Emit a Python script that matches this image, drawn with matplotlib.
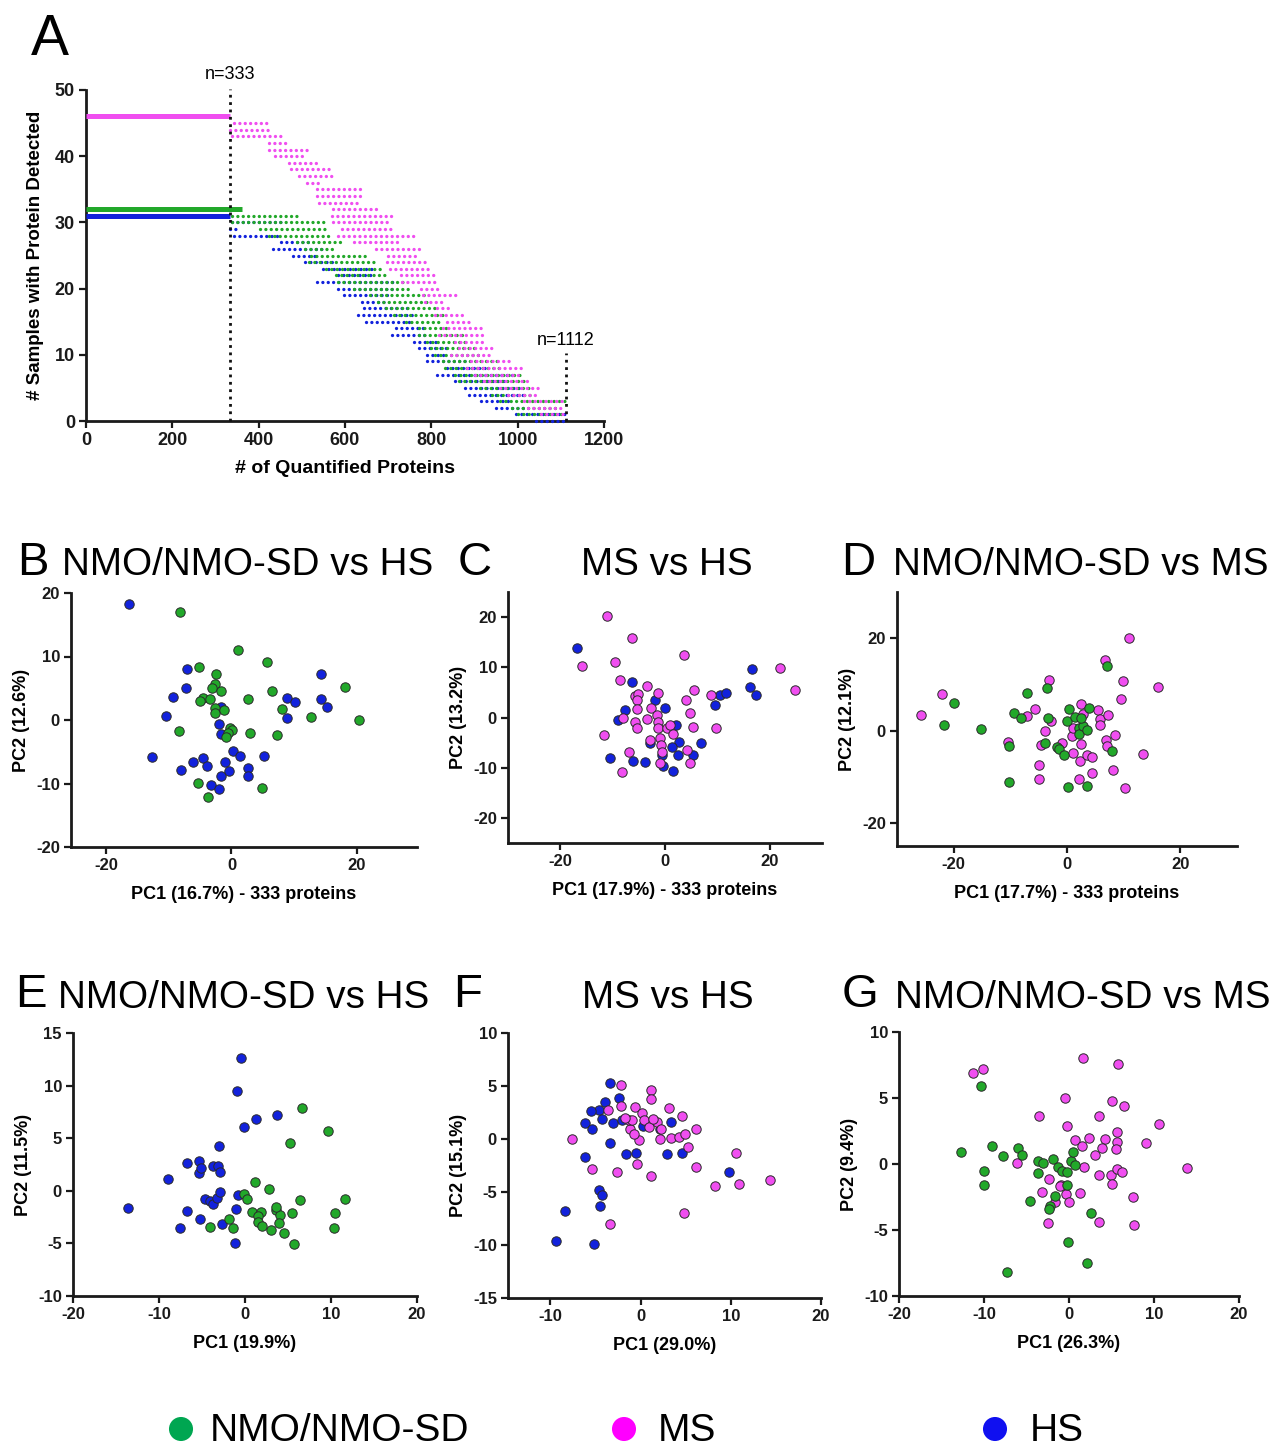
import numpy as np
import matplotlib
matplotlib.use("Agg")
import matplotlib.pyplot as plt
from matplotlib import font_manager

W, H = 1275, 1448
plt.rcParams['axes.unicode_minus'] = False

_names = {f.name for f in font_manager.fontManager.ttflist}
NARROW = 'Liberation Sans Narrow' if 'Liberation Sans Narrow' in _names else 'Liberation Sans'
WIDE = 'Liberation Sans'

# colours
GREEN = '#22a82a'
MAGENTA = '#f04ef0'
BLUE = '#1222dc'
LEG_GREEN = '#00a651'
LEG_MAGENTA = '#ff00ff'
LEG_BLUE = '#1010f0'

# ---------------- panel A : detection counts per group ----------------
# plateau lines (proteins detected in all samples of a group)
ms_full, ms_full_end = 46, 333
nmo_full, nmo_full_end = 32, 362
hs_full, hs_full_end = 31, 333

# dotted runs: number of samples, first and last protein rank of the run
ms_level = [45, 44, 43, 42, 41, 40, 39, 38, 37, 36, 35, 34, 33, 32, 31, 30, 29, 28, 27, 26, 25, 24,
            23, 22, 21, 20, 19, 18, 17, 16, 15, 14, 13, 12, 11, 10, 9, 8, 7, 6, 5, 4, 3, 2, 1]
ms_x0 = [343, 333, 338, 423, 423, 437, 470, 474, 493, 512, 536, 536, 540, 573, 569, 573, 592, 583, 620,
         672, 700, 698, 705, 729, 733, 776, 780, 785, 813, 808, 837, 827, 818, 855, 865, 846, 893, 883,
         902, 921, 959, 977, 1015, 1024, 1053]
ms_x1 = [420, 423, 460, 470, 512, 512, 540, 569, 573, 550, 634, 634, 630, 677, 719, 710, 710, 761, 733,
         771, 766, 790, 795, 808, 813, 818, 860, 827, 850, 870, 893, 916, 926, 926, 950, 940, 982, 1010,
         1010, 1034, 1048, 1048, 1109, 1109, 1109]

nmo_level = [31, 30, 29, 28, 27, 26, 25, 24, 23, 22, 21, 20, 19, 18, 17, 16, 15, 14, 13, 12, 11, 10,
             9, 8, 7, 6, 5, 4, 3, 2, 1]
nmo_x0 = [338, 338, 404, 423, 489, 508, 522, 517, 555, 578, 583, 620, 658, 677, 695, 714, 742, 771, 771,
          789, 799, 808, 827, 832, 855, 865, 912, 940, 959, 987, 1001]
nmo_x1 = [493, 555, 555, 564, 597, 573, 648, 677, 691, 695, 742, 752, 790, 799, 818, 827, 827, 846, 874,
          883, 911, 911, 959, 968, 1006, 1015, 1034, 1034, 1113, 1090, 1109]

hs_level = [30, 29, 28, 27, 26, 25, 24, 23, 22, 21, 20, 19, 18, 17, 16, 15, 14, 13, 12, 11, 10,
            9, 8, 7, 6, 5, 4, 3, 2, 1, 0]
hs_x0 = [338, 333, 343, 451, 433, 479, 508, 550, 583, 536, 583, 597, 639, 644, 630, 649, 719, 710, 761,
         771, 789, 789, 836, 813, 855, 878, 888, 916, 949, 996, 1043]
hs_x1 = [460, 357, 446, 517, 555, 536, 573, 667, 667, 714, 714, 705, 695, 752, 761, 752, 780, 789, 818,
         837, 837, 883, 930, 996, 968, 1006, 1024, 987, 1015, 1109, 1109]

cut_core, cut_all = 333, 1112

# ---------------- panels B-G : PCA scores ----------------
b_hs_x = [-16.3, -7.1, -7.2, -9.3, -10.4, -12.7, -8.1, -6.2, -4.5, -3.9, -3.2, -2.0, -1.7, -1.0, -0.4,
          0.3, 1.4, 2.7, 2.7, 5.2, -1.6, -2.0, -1.6, 8.8, 10.1, 8.8, 14.3, 14.3, 15.2]
b_hs_y = [18.3, 8.1, 5.0, 3.7, 0.6, -5.8, -7.9, -6.6, -6.0, -7.2, -10.3, -10.8, -8.8, -6.6, -8.0,
          -4.9, -5.7, -7.5, -8.8, -5.7, 2.1, -0.7, -2.2, 3.5, 2.8, 0.3, 7.3, 3.3, 2.1]
b_nmo_x = [-8.2, 1.0, 5.6, -5.1, -2.4, -2.7, -3.1, -1.6, -4.5, -5.0, -3.5, 2.7, 6.5, 18.1, -2.7, -2.7,
           -1.2, 8.1, 12.7, 20.4, -8.4, -0.2, 0.1, -0.6, -0.9, 3.0, 7.2, -5.4, -3.8, 4.9]
b_nmo_y = [17.0, 11.1, 9.2, 8.3, 7.3, 5.7, 5.1, 4.5, 3.5, 3.0, 3.3, 3.3, 4.6, 5.2, 1.9, 1.1,
           1.6, 1.7, 0.4, 0.0, -1.8, -1.2, -1.5, -2.0, -2.6, -2.0, -2.4, -9.9, -12.1, -10.7]

c_hs_x = [-16.8, -6.3, -7.6, -9.0, -10.5, -6.2, -3.8, -2.0, 0.0, -2.9, 2.1, 2.7, 1.4, 2.5, 1.6, -0.4,
          6.9, 5.4, 9.6, 10.5, 11.7, 16.6, 16.3, 17.3, -0.6]
c_hs_y = [13.8, 7.0, 1.5, -0.5, -8.1, -8.6, -8.8, 3.5, 1.9, -5.1, -1.5, -4.8, -5.9, -7.4, -10.7, -9.7,
          -5.1, -7.4, 2.5, 4.5, 4.8, 9.7, 6.0, 4.5, -7.4]
c_ms_x = [-11.0, -6.3, -15.9, -9.5, -8.6, 3.7, -3.4, -5.8, -5.2, -5.4, -5.3, -1.3, -2.7, -1.6, -1.3,
          -3.5, -5.8, -5.4, -8.1, -11.6, -2.9, -1.0, -0.8, -0.6, -1.0, -1.3, 0.3, 1.0, 1.5, -6.9, -8.3,
          4.1, 4.8, 5.5, 5.4, 4.2, 4.8, 8.8, 9.8, 22.0, 24.9]
c_ms_y = [20.3, 15.8, 10.3, 11.1, 7.4, 12.5, 6.3, 4.3, 4.7, 3.4, 1.7, 4.8, 1.9, 0.5, -0.8,
          -0.3, -0.8, -2.0, 0.0, -3.4, -4.4, -4.0, -5.4, -6.9, -9.1, -2.1, -2.1, -1.5, -3.3, -6.8, -10.9,
          3.5, 0.9, 5.4, -1.9, -6.4, -9.0, 4.5, -2.0, 9.9, 5.4]

d_ms_x = [-25.8, -22.1, -5.7, -7.0, -3.2, -10.5, -5.0, -4.9, -3.9, -4.6, -2.8, -0.8, 0.8, 1.1, 2.4,
          2.9, 2.4, 2.3, 2.2, 3.6, 4.4, 4.4, 5.4, 5.9, 5.9, 7.3, 6.7, 6.9, 7.1, 8.5, 8.2, 9.6, 9.9,
          11.0, 10.3, 13.4, 16.0, 1.1]
d_ms_y = [3.3, 8.0, 4.7, 3.2, 10.9, -2.4, -7.5, -10.5, 0.0, -3.2, 2.1, -2.6, -1.1, -4.9, 5.8,
          3.5, -2.9, -6.5, -10.6, -5.4, -5.7, -9.2, 4.4, 2.4, 1.1, 3.3, 15.2, -2.0, -3.4, -1.0, -8.5, 6.9, 10.8,
          20.0, -12.4, -5.1, 9.4, 0.6]
d_nmo_x = [-19.9, -21.7, -15.1, -9.4, -8.2, -7.0, -3.6, -3.4, -10.2, -3.9, -10.2, -1.8, -1.5, -0.5,
           0.0, 0.4, 1.4, 2.1, 2.2, 2.9, 3.5, 3.9, 2.4, 0.2, 3.5, 7.0, 7.9]
d_nmo_y = [6.0, 1.2, 0.3, 3.9, 2.8, 8.2, 9.2, 2.8, -3.3, -2.7, -11.2, -3.5, -4.0, -5.4,
           2.1, 4.6, 2.9, 0.6, -0.8, 1.0, 0.1, 4.9, 2.7, -12.3, -12.0, 13.9, -4.5]

e_hs_x = [-0.5, -0.9, -0.1, 1.3, 3.7, -3.0, -6.7, -5.3, -5.4, -5.1, -3.7, -3.1, -2.9, -8.9, -13.6,
          -4.7, -4.1, -3.7, -3.2, -2.9, -0.8, -1.0, -6.7, -5.2, -7.6, -2.7, -1.2]
e_hs_y = [12.6, 9.5, 6.1, 6.8, 7.2, 4.3, 2.6, 2.8, 1.7, 2.2, 2.4, 2.4, 1.8, 1.1, -1.6,
          -0.8, -1.0, -1.3, -0.7, -0.1, -0.4, -1.7, -1.9, -2.7, -3.5, -3.2, -5.0]
e_nmo_x = [6.6, 9.7, 5.2, 1.2, 2.8, -0.1, 0.2, 6.4, 11.6, 0.8, 1.9, 1.5, 3.6, 4.1, 5.5, 10.5, 1.5,
           2.0, 3.0, 4.0, 4.5, 5.7, 10.3, -4.1, -1.9, -1.4, 3.6]
e_nmo_y = [7.9, 5.7, 4.5, 0.8, 0.2, -0.3, -0.8, -0.9, -0.8, -2.0, -2.0, -2.4, -1.8, -2.3, -2.1, -2.1,
           -3.0, -3.3, -3.7, -3.1, -4.0, -5.1, -3.5, -3.4, -2.7, -3.5, -1.5]

f_hs_x = [-3.4, -2.4, -3.9, -4.6, -5.5, -6.2, -5.4, -4.3, -3.1, -2.1, -3.4, -6.2, -1.6, -0.5, 2.9, 3.4,
          4.6, 0.3, -4.6, -4.3, -4.5, -8.4, -9.4, -5.2, 9.8, 2.1]
f_hs_y = [5.3, 3.9, 3.5, 2.7, 2.6, 1.5, 0.9, 1.9, 1.5, 1.8, -0.4, -1.7, -1.4, -1.3, -1.4, 1.6,
          -1.3, 1.2, -4.8, -5.3, -6.3, -6.8, -9.6, -9.9, -3.1, 0.9]
f_ms_x = [-7.6, -5.4, -3.4, -2.6, -2.2, -2.2, -3.6, -1.2, -1.3, -0.6, -0.4, -0.2, 0.2, 0.4, 1.1, 1.2,
          0.9, 1.2, 1.8, 2.1, 2.3, 3.1, 3.4, 4.3, 4.6, 4.9, 5.3, 6.1, 6.1, 4.8, 8.3, 10.6, 10.9, 14.3,
          -0.9, -1.7, 1.4, -0.7]
f_ms_y = [0.0, -2.8, -8.0, -3.1, 5.1, 3.1, 2.7, 0.9, 1.8, 3.0, -2.4, -0.1, 2.5, 1.8, 4.6, 3.8,
          1.1, -3.5, 1.6, 0.0, 0.9, 2.9, 0.1, 0.2, 2.2, 0.5, -0.8, 0.9, -2.6, -7.0, -4.4, -1.3, -4.2, -3.9,
          1.8, 2.0, 1.9, 0.5]

g_ms_x = [-11.3, -10.1, 1.6, 5.8, -0.5, -3.5, -0.2, 5.1, 6.5, 3.5, 10.6, 0.7, 1.5, 2.4, 4.2, 5.6, 5.6,
          3.9, 3.1, 5.5, 9.0, -6.1, 1.8, 3.5, 4.9, 5.6, 6.2, 5.1, 13.9, -2.3, -3.2, -0.9, -0.3, 0.0, 1.3,
          7.5, -2.5, 3.5, 7.6, -1.1, -1.6]
g_ms_y = [6.9, 7.2, 8.0, 7.6, 5.0, 3.6, 2.9, 4.8, 4.4, 3.6, 3.0, 1.8, 1.4, 2.0, 1.9, 2.4, 1.7,
          1.2, 0.7, 1.1, 1.6, 0.1, -0.2, -0.8, -0.8, -0.4, -0.6, -1.5, -0.3, -1.1, -2.1, -1.6, -2.3, -2.9, -2.2,
          -2.5, -4.5, -4.4, -4.6, -1.7, -2.9]
g_nmo_x = [-10.4, -12.7, -9.1, -7.8, -10.0, -10.0, -6.0, -5.5, -3.6, -3.1, -3.6, -1.9, -1.3, -0.8, -0.2,
           0.2, 0.5, 0.7, -4.6, -1.6, -2.2, -2.3, -0.2, 2.6, -0.1, 2.1, -7.3]
g_nmo_y = [5.9, 0.9, 1.4, 0.6, -0.5, -1.6, 1.2, 0.7, 0.2, 0.1, -0.7, 0.4, -0.2, -0.5, -0.6,
           0.2, 0.9, -0.1, -2.8, -2.4, -3.2, -3.4, -1.6, -3.7, -5.9, -7.5, -8.2]

legend_labels = ['NMO/NMO-SD', 'MS', 'HS']


def px_axes(fig, left, top, right, bottom):
    return fig.add_axes([left / W, 1 - bottom / H, (right - left) / W, (bottom - top) / H])


def style_axes(ax, fs=12):
    for s in ['top', 'right']:
        ax.spines[s].set_visible(False)
    for s in ['left', 'bottom']:
        ax.spines[s].set_linewidth(2.0)
        ax.spines[s].set_color('#1a1a1a')
    ax.tick_params(direction='out', length=5, width=1.6, colors='#1a1a1a', labelsize=fs, pad=3)
    for lab in ax.get_xticklabels() + ax.get_yticklabels():
        lab.set_fontfamily(NARROW)
        lab.set_fontweight('bold')


def pca_panel(ax, groups, xlim, ylim, xticks, yticks, xlabel, ylabel):
    for xs, ys, col in groups:
        ax.scatter(xs, ys, s=46, c=col, edgecolors='#2a2a2a', linewidths=0.7, zorder=3, clip_on=False)
    ax.set_xlim(*xlim)
    ax.set_ylim(*ylim)
    ax.set_xticks(xticks)
    ax.set_yticks(yticks)
    style_axes(ax, 12)
    ax.set_xlabel(xlabel, fontfamily=NARROW, fontweight='bold', fontsize=13, labelpad=9)
    ax.set_ylabel(ylabel, fontfamily=NARROW, fontweight='bold', fontsize=13, labelpad=4)


fig = plt.figure(figsize=(W / 100, H / 100), dpi=100)

# ---- panel A ----
axA = px_axes(fig, 86, 90, 604, 421)
dot_style = (0, (0.01, 1.6))
for lv, x0, x1, col in [(hs_level, hs_x0, hs_x1, BLUE),
                        (nmo_level, nmo_x0, nmo_x1, GREEN),
                        (ms_level, ms_x0, ms_x1, MAGENTA)]:
    lc = axA.hlines(lv, x0, x1, colors=col, linewidth=2.4, linestyles=dot_style, clip_on=False, zorder=3)
    lc.set_capstyle('round')
axA.hlines([ms_full], 0, ms_full_end, colors=MAGENTA, linewidth=3.6, zorder=4)
axA.hlines([nmo_full], 0, nmo_full_end, colors=GREEN, linewidth=3.6, zorder=4)
axA.hlines([hs_full], 0, hs_full_end, colors=BLUE, linewidth=3.6, zorder=4)
axA.vlines([cut_core], 0, 50.2, colors='#111111', linestyles=':', linewidth=2.0, zorder=5, clip_on=False)
axA.vlines([cut_all], 0, 10.3, colors='#111111', linestyles=':', linewidth=2.0, zorder=5, clip_on=False)
axA.text(cut_core, 52.3, 'n=%d' % cut_core, ha='center', va='center', fontfamily=NARROW, fontsize=13)
axA.text(cut_all, 12.1, 'n=%d' % cut_all, ha='center', va='center', fontfamily=NARROW, fontsize=13)
axA.set_xlim(0, 1200)
axA.set_ylim(0, 50)
axA.set_xticks(np.arange(0, 1201, 200))
axA.set_yticks(np.arange(0, 51, 10))
style_axes(axA, 13)
axA.set_xlabel('# of Quantified Proteins', fontfamily=NARROW, fontweight='bold', fontsize=14, labelpad=8)
axA.set_ylabel('# Samples with Protein Detected', fontfamily=NARROW, fontweight='bold', fontsize=13.5,
               labelpad=8)

# ---- panels B-D ----
axB = px_axes(fig, 71, 593, 417, 847)
pca_panel(axB, [(b_hs_x, b_hs_y, BLUE), (b_nmo_x, b_nmo_y, GREEN)], (-25.6, 29.6), (-20, 20),
          [-20, 0, 20], [-20, -10, 0, 10, 20], 'PC1 (16.7%) - 333 proteins', 'PC2 (12.6%)')
axC = px_axes(fig, 508, 592, 822, 843)
pca_panel(axC, [(c_hs_x, c_hs_y, BLUE), (c_ms_x, c_ms_y, MAGENTA)], (-30, 30), (-25, 25),
          [-20, 0, 20], [-20, -10, 0, 10, 20], 'PC1 (17.9%) - 333 proteins', 'PC2 (13.2%)')
axD = px_axes(fig, 897, 592, 1237, 846)
pca_panel(axD, [(d_ms_x, d_ms_y, MAGENTA), (d_nmo_x, d_nmo_y, GREEN)], (-30, 30), (-25, 30),
          [-20, 0, 20], [-20, 0, 20], 'PC1 (17.7%) - 333 proteins', 'PC2 (12.1%)')

# ---- panels E-G ----
axE = px_axes(fig, 73, 1033, 417, 1296)
pca_panel(axE, [(e_hs_x, e_hs_y, BLUE), (e_nmo_x, e_nmo_y, GREEN)], (-20, 20), (-10, 15),
          np.arange(-20, 21, 10), np.arange(-10, 16, 5), 'PC1 (19.9%)', 'PC2 (11.5%)')
axF = px_axes(fig, 508, 1033, 821, 1298)
pca_panel(axF, [(f_hs_x, f_hs_y, BLUE), (f_ms_x, f_ms_y, MAGENTA)], (-14.7, 20), (-15, 10),
          np.arange(-10, 21, 10), np.arange(-15, 11, 5), 'PC1 (29.0%)', 'PC2 (15.1%)')
axG = px_axes(fig, 899, 1032, 1239, 1296)
pca_panel(axG, [(g_ms_x, g_ms_y, MAGENTA), (g_nmo_x, g_nmo_y, GREEN)], (-20, 20), (-10, 10),
          np.arange(-20, 21, 10), np.arange(-10, 11, 5), 'PC1 (26.3%)', 'PC2 (9.4%)')

# ---- panel letters, titles and legend on a full-figure overlay ----
over = fig.add_axes([0, 0, 1, 1], zorder=-1)
over.set_xlim(0, W)
over.set_ylim(H, 0)
over.axis('off')

over.text(50, 55, 'A', ha='center', va='baseline', fontfamily=WIDE, fontsize=41)
letters = [('B', 33, 575), ('C', 475, 575), ('D', 858, 575),
           ('E', 31, 1007), ('F', 468, 1007), ('G', 860, 1007)]
for ch, x, y in letters:
    over.text(x, y, ch, ha='center', va='baseline', fontfamily=WIDE, fontsize=34)
titles = [('NMO/NMO-SD vs HS', 62, 575, 'left'), ('MS vs HS', 667, 575, 'center'),
          ('NMO/NMO-SD vs MS', 893, 575, 'left'), ('NMO/NMO-SD vs HS', 58, 1008, 'left'),
          ('MS vs HS', 668, 1008, 'center'), ('NMO/NMO-SD vs MS', 895, 1008, 'left')]
for t, x, y, ha in titles:
    over.text(x, y, t, ha=ha, va='baseline', fontfamily=WIDE, fontsize=27.8)

leg_x = [181, 624, 995]
leg_tx = [210, 658, 1030]
leg_cols = [LEG_GREEN, LEG_MAGENTA, LEG_BLUE]
over.scatter(leg_x, [1429] * 3, s=300, c=leg_cols, linewidths=0)
for lab, tx in zip(legend_labels, leg_tx):
    over.text(tx, 1441, lab, ha='left', va='baseline', fontfamily=NARROW, fontsize=28)

fig.savefig('out.png', dpi=100, facecolor='white')
